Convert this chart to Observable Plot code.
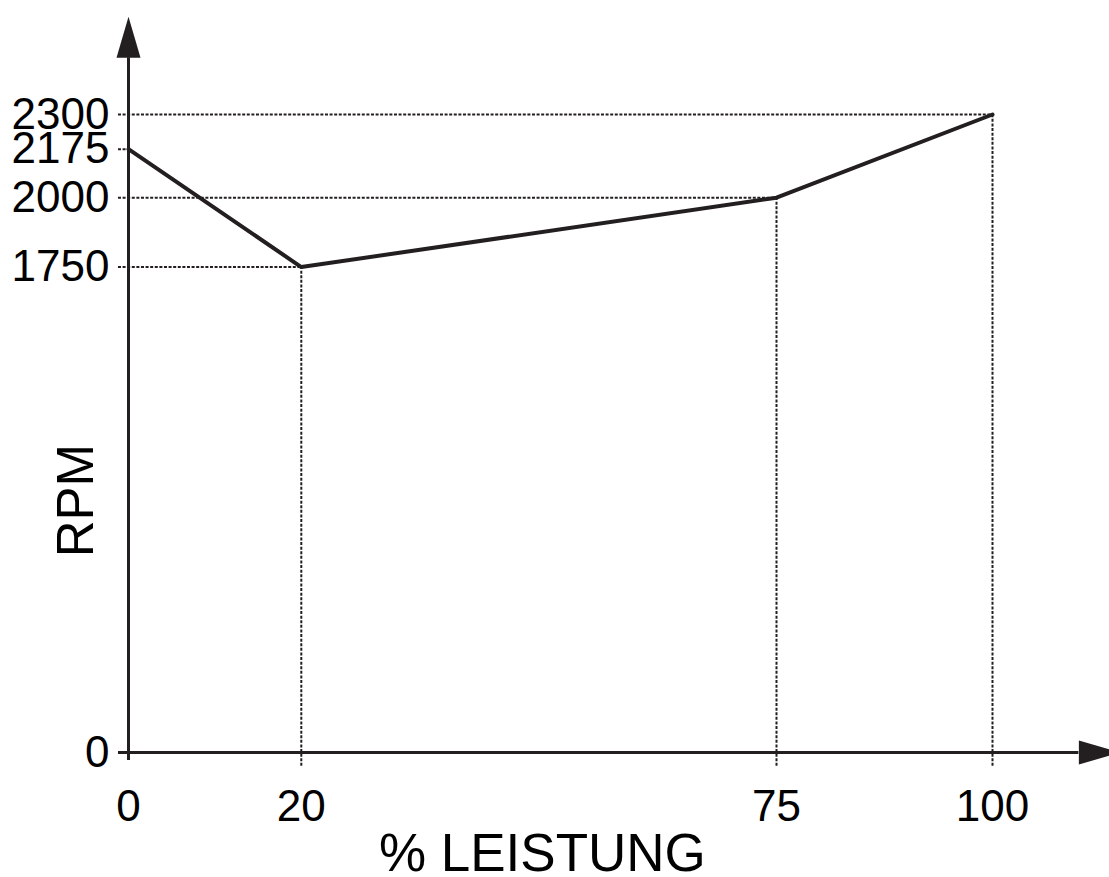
<!DOCTYPE html>
<html>
<head>
<meta charset="utf-8">
<script src="https://cdn.jsdelivr.net/npm/d3@7"></script>
<script src="https://cdn.jsdelivr.net/npm/@observablehq/plot@0.6"></script>
<style>
  html, body { margin: 0; padding: 0; background: #ffffff; }
  #chart { width: 1109px; height: 877px; }
</style>
</head>
<body>
<div id="chart"></div>
<script>
// ---- data ----
const leistung = [0, 20, 75, 100];          // % Leistung
const rpm = [2175, 1750, 2000, 2300];        // RPM
const xTicks = [0, 20, 75, 100];
const yTicks = [0, 1750, 2000, 2175, 2300];
const xTitle = "% LEISTUNG";
const yTitle = "RPM";

// axis extents / title anchors (data units)
const xAxisStart = -1.16, xAxisEnd = 110;
const yAxisStart = -29, yAxisEnd = 2505;
const guideLeft = -1.16, guideBottom = -50;
const xTitlePos = 47.9, yTitlePos = 908;

const ink = "#231f20";
const font = "'Liberation Sans', Arial, Helvetica, sans-serif";

const table = leistung.map((x, i) => ({x, y: rpm[i]}));

// filled, elongated triangle for arrow heads (tip along -y)
const arrowHead = {
  draw(context) {
    context.moveTo(-12, 0);
    context.lineTo(12, 0);
    context.lineTo(0, -41);
    context.closePath();
  }
};

const chart = Plot.plot({
  width: 1109,
  height: 877,
  marginLeft: 128,
  marginRight: 117,
  marginTop: 114,
  marginBottom: 125,
  style: {fontFamily: font, background: "#ffffff", color: ink, overflow: "visible"},
  x: {domain: [0, 100], axis: null},
  y: {domain: [0, 2300], axis: null},
  marks: [
    // dotted guide lines
    Plot.ruleY(table, {y: "y", x1: () => guideLeft, x2: "x", stroke: ink, strokeWidth: 2, strokeDasharray: "3,1.6"}),
    Plot.ruleX(table.filter(d => d.x > 0), {x: "x", y1: () => guideBottom, y2: "y", stroke: ink, strokeWidth: 2, strokeDasharray: "3,1.6"}),
    // axes
    Plot.ruleY([0], {x1: () => xAxisStart, x2: () => xAxisEnd, stroke: ink, strokeWidth: 3}),
    Plot.ruleX([0], {y1: () => yAxisStart, y2: () => yAxisEnd, stroke: ink, strokeWidth: 3}),
    Plot.dot([0], {x: () => 0, y: () => yAxisEnd, symbol: arrowHead, fill: ink, stroke: "none"}),
    Plot.dot([0], {x: () => xAxisEnd, y: () => 0, symbol: arrowHead, rotate: 90, fill: ink, stroke: "none"}),
    // data line
    Plot.line(table, {x: "x", y: "y", stroke: ink, strokeWidth: 4, strokeLinejoin: "miter"}),
    // tick labels
    Plot.text(yTicks, {x: () => 0, y: d => d, text: d => String(d), textAnchor: "end", dx: -19, fontSize: 44, fill: "#000"}),
    Plot.text(xTicks, {x: d => d, y: () => 0, text: d => String(d), textAnchor: "middle", lineAnchor: "bottom", dy: 68, fontSize: 44, fill: "#000"}),
    // axis titles
    Plot.text([xTitle], {x: () => xTitlePos, y: () => 0, text: d => d, textAnchor: "middle", lineAnchor: "bottom", dy: 118, fontSize: 53, fill: "#000"}),
    Plot.text([yTitle], {x: () => 0, y: () => yTitlePos, text: d => d, textAnchor: "middle", rotate: -90, lineAnchor: "bottom", dx: -36, fontSize: 51, fill: "#000"})
  ]
});

document.getElementById("chart").appendChild(chart);
</script>
</body>
</html>
